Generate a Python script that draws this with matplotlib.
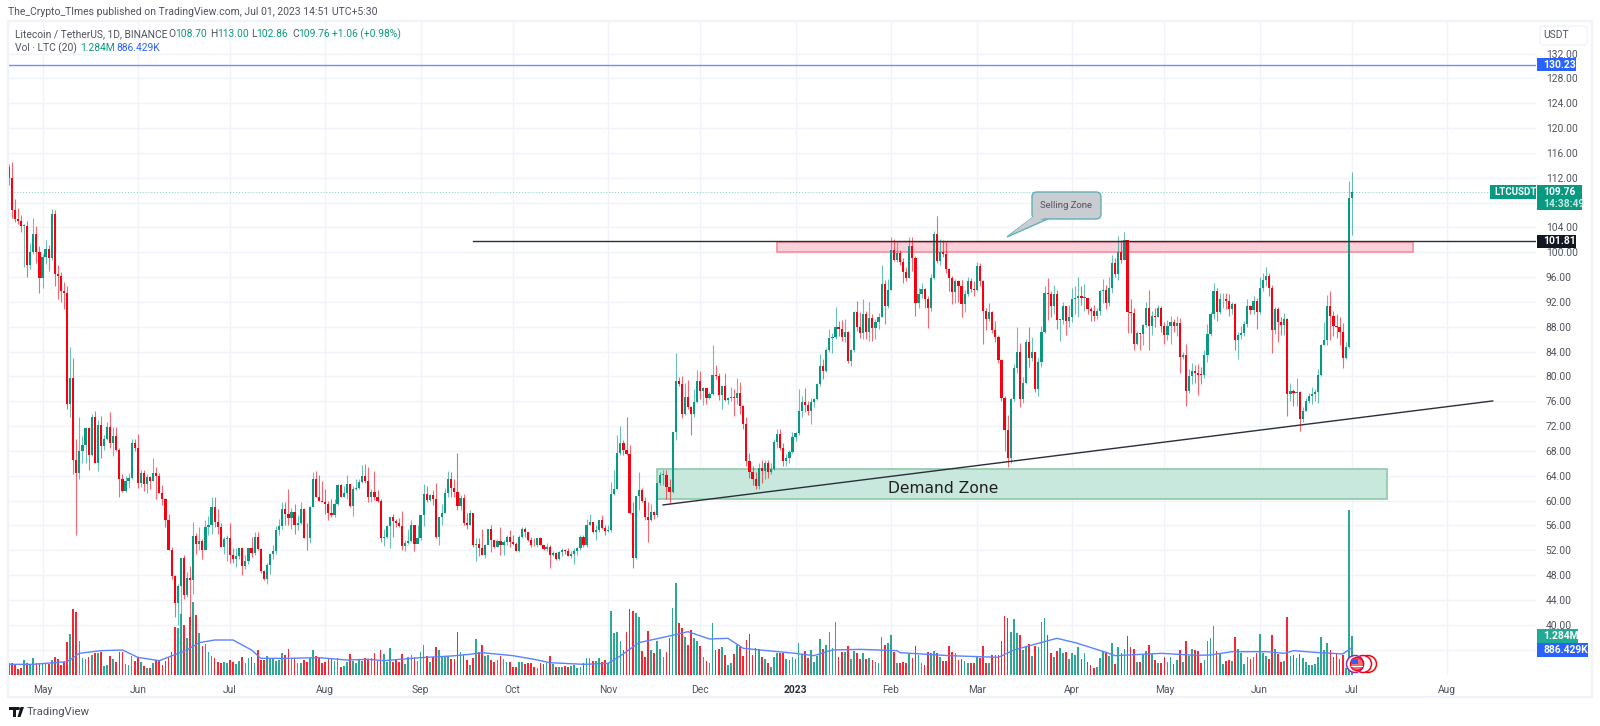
import numpy as np
import pandas as pd
import matplotlib
matplotlib.use('Agg')
import matplotlib.pyplot as plt
import matplotlib.dates as mdates
from matplotlib.patches import Rectangle, Circle, FancyBboxPatch, Polygon

plt.rcParams['font.family'] = ['Roboto', 'DejaVu Sans']

first_open = 113.8
closes = [
    112.0,106.8,105.4,105,104.2,104.3,98,100,103,100,
    95.8,99.2,100.5,99.1,106.1,96.5,96.1,93.8,93.4,75.6,
    79.8,66.6,64.5,68,69,71.7,67.4,73.4,66.1,72.2,
    68.8,70,71.8,69.2,70.4,68.2,63.5,61.6,63.1,63.7,
    69.2,68.4,62.8,64.5,62.6,63.8,63.2,64.5,63.9,61.3,
    60.3,56.8,52.1,47.9,43.5,46.2,50.8,44.8,47.6,47.2,
    54.3,53,53.5,52.1,55.8,56,59,56.6,55.8,52.6,
    53.8,54,51.2,50.6,51,52.3,49.5,50.3,52.3,51.5,
    54.2,52.2,48.7,47.3,49.7,51.4,51.8,55.2,55.9,58.7,
    57.9,57.2,58.1,56,56.4,58.6,54,53.9,59,63.5,
    60.6,60,59.7,59.5,58,57.6,59.5,62.5,60.6,61.2,
    62.7,59.1,61.8,62,63,63.9,63.2,60.6,61.4,60.5,
    60,54,54.1,55.9,57.4,56.7,56.4,55.9,52.7,53.2,
    53.5,56,53,53.9,57.6,61.1,60.1,60.9,60.3,54.1,
    57.3,58,61.2,63.4,
    62.1,61.4,59.2,60.4,56.4,56.0,58,52.9,53,52.4,
    51.3,52.9,55.4,53.6,52.6,53.5,52.8,53.4,54.1,53.3,
    53,51.9,54.2,55.4,54.9,53.7,52.9,52.8,54,52.9,
    52.2,52.5,51.3,51.5,50.6,51.7,52,51.9,51.1,51.4,
    51.8,52.3,54.2,52.9,56.1,56.5,54.9,55.2,56.8,55.6,
    55.1,55.3,61,61.9,67.7,69.3,68.2,67.5,57.96,50.8,
    60.7,61.7,60,57.4,56.9,58.2,57.6,62.8,64.1,64.2,
    62.2,61.4,71,79.2,78.7,74,76.7,75.1,74,75.9,
    79.3,77.7,78.1,76.6,77.2,80.3,80,77,78.4,76.2,76.5,
    76.6,76.5,77.4,75.3,72.4,66.3,64.6,63.5,62.4,65.2,
    64.8,66,64.6,65.1,69.4,70.8,68.5,66.3,66.8,67.8,
    70.2,70.9,74.4,75.8,75.4,74.5,75.8,76.3,78.7,81.6,
    80.9,84.2,86.2,86.3,87.9,87.7,86.3,87.1,82.5,84.2,
    90.3,88,87,90,87.1,89.4,87.8,88.7,89.6,94.9,
    91.3,94,100.4,98.8,99.9,98.5,96.8,95.9,101,99.1,
    91.9,93.2,94.1,92.5,91,95.9,103,98.6,100.1,99.7,
    97.3,95.9,93.6,95.3,94.6,91.6,93.2,95.3,94.1,93.9,
    97.8,95.4,90.5,89.3,90.3,87.4,86.4,82.7,76.5,71.4,
    66.9,76.3,81.4,83.9,76.3,78.9,85.5,83,83.9,77.9,
    82.3,87.2,93.5,93.3,91.4,93.3,89.1,89.1,91.3,89,
    89.5,92.5,92.7,92.9,92.6,92.6,90.9,90.5,89.8,90.5,
    93.8,94,91.9,94.2,98.2,96.5,100,98.8,101.9,90.3,
    90.2,85.2,87,86.8,88.3,91,88.1,89.8,89.5,91,
    88.2,86.7,88.1,88.8,88.2,88.6,83.2,83.4,77.6,80,
    80.9,80.6,80.3,80.2,83.5,86.8,90,93.8,90.3,92.4,
    92.4,92.2,90.8,91.7,85.8,86.6,87,88.5,91.4,90.7,
    92.2,90.3,94.2,95.5,96.1,94.2,87.5,90.8,88.7,88.3,
    89.2,77.1,77.7,77.4,77.5,73.1,74.5,76.1,76.9,77.2,
    77.5,80.3,85,85.9,91.4,89.7,88.2,88,87.1,83,
    84.7,108.7,109.76,
]
highs = [
    114.2,114.6,108.6,107.2,106,104.5,105,101.5,105.6,104.2,
    101,99.8,102,101.2,106.9,106.8,98,96.8,95.2,94.5,
    84.8,82.9,70,73.4,70.4,71.9,71.9,74,74.5,73,
    73.6,70.5,72.7,74.2,71.9,71.8,68.4,64.3,64,64.4,
    70,70,70.8,65,64.9,64.3,63.9,66.8,65.4,64.5,
    62.5,60.4,57.8,52.5,48,46.6,50.8,51.3,48.5,49.5,
    56.5,54.7,55.7,53.8,56.8,57.5,60.5,60.5,58.7,56.4,
    54.1,54.4,56.4,52.3,52.3,52.4,52.5,51.3,52.4,54.1,
    54.9,55,52.3,48.8,49.9,51.5,52.8,55.9,57,59.8,
    59.8,61.8,58.8,59.4,57.6,59.7,58.8,56.4,59.1,64.6,
    64.7,64.2,63.2,61.9,60,60.3,60.2,62.6,62.6,62.3,
    64.2,62.7,62.4,63.5,63.5,65.8,65.9,65.4,61.8,64.7,
    61.7,60.2,55.4,56.1,57.4,57.9,57.1,57.2,58.4,53.6,
    55.5,56.8,56,56,57.7,62.6,62.3,61.1,61.7,62.9,
    57.4,59.5,62,64.8,
    64.6,63.5,67.6,60.9,61,58,58.5,58,54,54,
    55.5,53,55.5,56,53.7,53.8,55.8,53.7,54.5,55.3,
    54.5,53.4,54.4,55.8,55.7,54.9,54.2,53.9,54,54.2,
    52.9,53.1,52.9,51.9,51.7,51.8,52.3,52.2,52.3,51.8,
    52.3,52.5,54.4,54.4,57,57.8,56.5,56,56.9,57.7,
    56,56,63,64.9,70.6,72,69.7,73.5,68.9,59.8,
    60.8,64.6,62,60.6,59.7,59.5,58.3,62.9,64.6,64.9,
    64.9,63.4,71,83.7,79.9,80,79,79.4,75.2,78,
    81,80.8,78.3,78.1,77.5,85.1,81.9,80.5,78.5,80.5,76.7,
    78.3,78,79.8,79.1,75.4,73.4,67.6,65.5,64.6,66,
    66.5,66.5,66.5,66,70,71.6,71.6,69.2,67.5,68.2,
    71,71,78,76.9,78.2,76,76.5,76.5,79,83.6,
    82.8,84.5,87.6,87,91.2,89,89.1,89.2,87.3,84.4,
    90.5,92.1,90.3,92.5,90.6,92,90,89.3,90.2,98,
    95.5,95.7,102.5,102.2,101.6,100.4,99.1,97.7,102.5,102.5,
    99.4,94.2,95,94.2,93,96.5,103.4,105.8,102.2,101.9,
    101.7,97.4,96.1,95.7,95.5,95.5,93.9,96,95.9,95.3,
    98.4,98.2,95.6,91,91.8,90.5,88.9,86.7,82.8,76.8,
    73.8,76.5,82,88,85.4,79.9,86,88,86.4,84,
    83,88.2,94.5,95.8,93.8,94.7,94,89.2,92,91.4,
    91.5,94.3,94.6,96,94.5,94.9,92.7,91.2,91.5,91,
    94,95.7,94.7,96,99.5,99.1,102.6,102,103.3,102,
    92.4,91,87.3,87,88.5,92,93.9,90.5,91,91.5,
    91.4,88.7,89.1,89.8,89.3,89.7,89.4,84,85.2,81.2,
    82.1,81.8,82,81.5,84.2,88.5,90.3,95,94.2,93.5,
    93.4,93.4,93.3,92,91.9,87.2,88.1,89,92.4,91.5,
    93,92.6,96,96.7,97.6,96.6,94.7,91.2,91.2,89.5,
    90.2,89.4,79,78,79.7,77.6,75,76.5,77.3,78.3,
    78,81.2,85.3,88.8,93.1,93.8,90.5,90,89.5,88.6,
    85.6,111.5,113,
]
lows = [
    110.8,105.5,104.9,104.5,103.3,97.7,96,97.3,99.8,98.2,
    93.4,94.2,98.1,97,98.8,94.5,92.5,92,90.9,74.8,
    73.4,64.3,54.5,63.4,66.1,66.1,65,67.2,66,64.8,
    66.9,68.1,69.7,68.5,67.2,68,60.6,61.4,61.4,62,
    63.5,68,62,62.2,61.6,61.3,61.8,63.1,60.3,61.2,
    59.3,55.7,52,47.4,41.2,39.9,41.5,44.2,44.4,39.9,
    45,51.4,52,50.6,52,54.5,54.6,55.8,54.6,52.6,
    51.4,50.3,50,50,49.3,50.6,48,49,49.8,50.9,
    51.3,52.1,48.3,47.2,46.5,48.1,50.6,51.4,54.4,55.4,
    56,56,55.4,54.6,55.3,56.2,53.9,52.1,53.2,58.9,
    60.5,59.9,59.7,57.9,56.8,57.4,57.4,59.3,60.5,60.5,
    60.3,59,57.5,61.7,61.8,62.9,62.9,59.7,59.7,60.1,
    59.7,53.3,52.7,53.9,52.3,54.1,55.7,55.7,52,51.8,
    53,53.3,51.8,53.8,53.7,55.9,59.7,60,59.3,54,
    52.9,56,58,60.5,
    60.6,60.6,58.5,58.5,56.1,55.5,56,52.6,50.3,51,
    51.3,50.7,53,51.7,52.3,52.5,51.2,51.2,52.9,52.6,
    52.9,51.8,51.7,54,54.2,53.5,52.6,52.7,52.6,52.8,
    52,51.8,49.2,51,50.5,50.5,51,51.4,51,50.8,
    49.8,51.3,52,52.6,52.6,56,54.7,53.7,54.9,55.5,
    54.5,54.9,54.9,60.9,61.8,67.4,67.4,67.4,57.8,49.2,
    50.6,58.5,59.8,56.9,53.4,56.7,57,57.3,62.5,62.5,
    60.2,59.6,61.2,69.8,78.5,73.3,73.8,74.8,70.6,73.5,
    75.8,76.4,75.4,75.6,76.4,77,79.6,76.2,74.8,76.1,75.6,
    76,73.6,75.6,74,71.6,65.5,63.6,62.5,61.8,61.9,
    62.8,63.5,63.7,64.3,64.9,68.5,68.1,65.5,65.5,66.1,
    67.6,69.6,70.5,73.5,74.2,73.8,72.4,75,76.2,78.5,
    79.6,80.7,83.9,83.8,86,86.5,85.7,85.5,82.2,81.7,
    84,87.3,86.2,86,86,85.7,85.7,86,87.6,89.5,
    88.4,91.1,94,98.6,98.4,98,95,95.3,95.9,97,
    89.8,91,92.7,91,87.8,90.5,95.7,98.3,97.9,99.3,
    96.7,93.8,91.6,91.8,92,89.5,90.4,93,93.6,93,
    93.7,94.5,85.3,87.5,89,87,85.5,82.2,76,68,
    65.4,66,76,80.5,75.1,75.7,78.7,81.5,82.5,77.5,
    76.8,81.5,87,89.1,89.5,90,87.7,85.7,88.5,86.6,
    88,88.8,90,89.5,91.5,90.5,90,89,88.9,89.2,
    89.9,91.9,90.8,91.4,93.4,96,95.5,98.2,98.7,87,
    87,84.3,85,84.3,85,88,84.3,86.6,88,89.5,
    87.2,85.3,85.9,85.3,87.2,86.5,80.6,82.8,75.3,77.4,
    78.8,78.9,77,78.8,79.8,82.3,86.5,89.3,88.9,90,
    91,90.8,89.8,90,84.3,82.8,86,86.5,88,90,
    90,87.6,90,93.8,94.5,93,83.8,86.8,85.5,86.6,
    86.7,73.6,76,75.2,75.3,71.2,72.6,74.4,75.7,75.5,
    76,75.8,80,85,85,85.9,86.5,86.2,85,81.4,
    82.8,84.5,102.86,
]
# volume in units of about 11K LTC
volumes = [
    35,37,30,18,20,45,35,32,52,37,35,32,32,32,45,55,47,30,40,98,123,197,189,103,
    52,47,53,60,67,65,70,27,30,57,48,38,69,69,32,29,57,43,53,38,27,21,20,37,45,45,30,43,
    53,68,145,140,182,150,110,175,220,180,125,87,92,68,58,50,38,35,40,35,45,40,32,42,53,35,
    50,53,35,75,45,45,57,50,50,43,
    45,65,60,77,50,50,35,35,45,40,
    50,75,57,50,35,40,47,47,43,50,
    23,27,40,63,43,37,47,43,50,47,
    50,67,42,75,63,40,80,40,47,38,
    62,33,53,60,55,43,70,89,57,40,
    53,83,75,53,57,57,47,47,
    130,70,60,45,30,50,108,70,90,57,
    60,45,38,45,57,48,40,40,25,25,
    38,38,33,37,35,25,20,37,33,37,
    57,33,23,23,23,27,23,27,31,20,
    25,35,52,50,42,42,52,38,45,37,
    192,125,130,102,75,128,198,191,187,175,
    72,53,133,75,67,102,77,55,70,112,
    202,275,155,140,115,90,135,112,102,88,
    53,42,37,155,75,78,83,60,30,35,
    62,90,83,57,105,123,60,82,78,55,
    47,37,23,55,67,65,65,47,45,55,
    48,95,62,72,52,75,38,58,108,78,
    89,130,82,160,53,68,70,87,48,72,
    65,47,65,48,50,45,40,37,115,90,
    95,120,70,35,
    35,40,37,62,52,87,60,35,30,70,
    65,72,65,55,42,42,87,70,65,45,
    47,42,35,37,37,53,50,87,35,35,
    60,60,60,102,177,172,128,167,125,120,
    75,85,92,57,87,83,160,170,120,65,
    55,72,82,67,70,48,65,60,85,48,
    65,38,30,22,25,50,72,65,57,97,
    33,84,65,77,117,83,77,40,38,60,
    73,91,63,45,35,37,53,40,53,32,
    45,75,40,102,57,79,75,73,37,45,
    102,110,147,72,65,33,42,45,43,113,
    77,65,33,53,47,53,67,123,65,57,
    47,120,77,63,40,43,175,57,60,52,
    63,50,40,30,30,32,53,113,75,97,
    75,55,63,47,60,20,495,118,
]
ma_days = [0,8,19,23,30,37,42,49,58,62,67,73,79,82,91,101,110,117,122,134,144,
           150,154,164,171,176,187,195,199,205,215,221,228,234,239,248,256,262,268,277,289,
           290,306,322,327,335,341,347,357,360,375,386,391,398,409,415,418,425,434,437]
ma_values = [32,32,40,65,73,75,53,43,75,97,105,105,75,50,50,52,45,47,43,52,57,
             62,67,58,47,37,32,35,57,97,117,130,108,110,80,72,65,58,75,77,73,
             67,58,53,75,95,110,97,68,58,65,59,60,70,70,65,73,68,63,82]

price_ticks = list(range(36, 136, 4))
month_dates = ['2022-05-01','2022-06-01','2022-07-01','2022-08-01','2022-09-01','2022-10-01',
               '2022-11-01','2022-12-01','2023-01-01','2023-02-01','2023-03-01','2023-04-01',
               '2023-05-01','2023-06-01','2023-07-01','2023-08-01']
month_labels = ['May','Jun','Jul','Aug','Sep','Oct','Nov','Dec','2023','Feb','Mar','Apr','May','Jun','Jul','Aug']

GREEN = '#089981'
RED = '#f7000f'
GRID = '#f0f3fa'
TXT = '#50535e'
BLUE = '#2962ff'

closes = np.array(closes)
highs = np.array(highs)
lows = np.array(lows)
opens = np.r_[first_open, closes[:-1]]
days = mdates.date2num(pd.date_range('2022-04-20', periods=len(closes)))
up = closes >= opens
colors = np.where(up, GREEN, RED)
start = days[0]

W, H = 1600, 726
fig = plt.figure(figsize=(W / 100, H / 100), dpi=100, facecolor='white')
pos = [8 / W, 1 - 675 / H, 1528 / W, 654 / H]
xlim = (start - 0.23, start + 496.9)
ylim = (31.9, 137.26)

# grid sits underneath everything
bg = fig.add_axes(pos, zorder=0)
bg.set_xlim(xlim)
bg.set_ylim(ylim)
bg.set_yticks(price_ticks)
bg.set_xticks(mdates.date2num(pd.to_datetime(month_dates)))
bg.grid(True, color=GRID, lw=1)
bg.tick_params(length=0, labelleft=False, labelbottom=False)
for s in bg.spines.values():
    s.set_visible(False)

# volume pane
vax = fig.add_axes(pos, zorder=1)
vax.patch.set_alpha(0)
vax.set_xlim(xlim)
vax.set_ylim(0, 654 * 3)
vax.bar(days, volumes, width=0.55, color=colors, alpha=0.85, linewidth=0)
vax.plot(start + np.array(ma_days), ma_values, color='#5b82ff', lw=1, zorder=3)
vax.axis('off')

# price pane
ax = fig.add_axes(pos, zorder=2)
ax.patch.set_alpha(0)
ax.set_xlim(xlim)
ax.set_ylim(ylim)
for s in ax.spines.values():
    s.set_visible(False)

ax.axhline(130.23, color='#6f8fff', lw=1)
ax.axhline(109.76, color=GREEN, lw=0.7, ls=(0, (1, 2)), alpha=0.5, zorder=1)

ax.add_patch(Rectangle((start + 211, 60.3), 237.4, 4.8, fc='#c9e8dd', ec='#8cc9a8', lw=1.2, zorder=1))
ax.add_patch(Rectangle((start + 250, 100), 206.8, 1.7, fc='#fbd0dd', ec='#f58f97', lw=1.2, zorder=1))

ax.vlines(days, lows, highs, colors=colors, lw=0.8, alpha=0.6, zorder=2)
ax.bar(days, np.abs(closes - opens).clip(0.12), bottom=np.minimum(opens, closes),
       width=0.62 * 1.15, color=colors, linewidth=0, zorder=3)

ax.plot([start + 151, start + 497], [101.81, 101.81], color='#2a2e39', lw=1, zorder=4)
ax.plot([start + 212.9, start + 482.8], [59.3, 76.05], color='#2a2e39', lw=1, zorder=4)
ax.text(start + 304, 61.9, 'Demand Zone', ha='center', va='center', fontsize=11.2,
        family='DejaVu Sans', color='#1f1f1f', zorder=5)

ax.yaxis.tick_right()
ax.set_yticks([t for t in price_ticks if t >= 40])
ax.set_yticklabels(['%.2f' % t for t in price_ticks if t >= 40], fontsize=7.4, color=TXT)
ax.set_xticks(mdates.date2num(pd.to_datetime(month_dates)))
ax.set_xticklabels(month_labels, fontsize=7.4, color=TXT)
ax.tick_params(length=0)
ax.tick_params(axis='y', pad=7)
ax.tick_params(axis='x', pad=7)
ax.get_xticklabels()[8].set_color('#2a2e39')
ax.get_xticklabels()[8].set_fontweight('bold')

# page furniture in pixel coordinates
ov = fig.add_axes([0, 0, 1, 1], zorder=5)
ov.set_xlim(0, W)
ov.set_ylim(H, 0)
ov.axis('off')
ov.patch.set_alpha(0)


def label_box(x0, x1, y0, y1, color, text, tx, size=7.4, tcolor='white', weight='bold'):
    ov.add_patch(Rectangle((x0, y0), x1 - x0, y1 - y0, fc=color, ec='none'))
    ov.text(tx, (y0 + y1) / 2, text, color=tcolor, fontsize=size, fontweight=weight, va='center')


ov.add_patch(Rectangle((8, 21), 1584, 676, fc='none', ec=GRID, lw=1.6))
ov.add_patch(FancyBboxPatch((1541, 27), 45, 17, boxstyle='round,pad=1,rounding_size=3', fc='white', ec=GRID, lw=1))
ov.text(1543, 35, 'USDT', fontsize=7.4, color=TXT, va='center')

label_box(1537, 1576, 58, 71, BLUE, '130.23', 1543)
label_box(1537, 1576, 235, 248, '#131722', '101.81', 1543)
label_box(1490, 1536, 185, 199, GREEN, 'LTCUSDT', 1494, size=7)
label_box(1537, 1582, 185, 199, GREEN, '109.76', 1543)
label_box(1537, 1582, 198, 210, GREEN, '14:38:49', 1543, tcolor='#c4e8df')
label_box(1537, 1578, 629, 643, '#22ab94', '1.284M', 1543)
label_box(1537, 1588, 643, 657, BLUE, '886.429K', 1543)

ov.text(8, 12, 'The_Crypto_TImes published on TradingView.com, Jul 01, 2023 14:51 UTC+5:30',
        fontsize=7.5, color=TXT, va='center')
ov.text(15, 34, 'Litecoin / TetherUS, 1D, BINANCE', fontsize=7.4, color=TXT, va='center')
for lab, val, lx, vx in [('O', '108.70', 168, 175), ('H', '113.00', 210, 217),
                         ('L', '102.86', 251, 256), ('C', '109.76', 292, 298)]:
    ov.text(lx, 34, lab, fontsize=7.4, color=TXT, va='center')
    ov.text(vx, 34, val, fontsize=7.4, color=GREEN, va='center')
ov.text(332, 34, '+1.06 (+0.98%)', fontsize=7.4, color=GREEN, va='center')
ov.text(15, 48, 'Vol · LTC (20)', fontsize=7.4, color=TXT, va='center')
ov.text(80, 48, '1.284M', fontsize=7.4, color=GREEN, va='center')
ov.text(116, 48, '886.429K', fontsize=7.4, color=BLUE, va='center')

# selling zone callout
ov.add_patch(Polygon([(1007, 237), (1032, 218), (1050, 218)], fc='#c9ccd1', ec='#62b0b5', lw=1))
ov.add_patch(FancyBboxPatch((1034, 194), 65, 23, boxstyle='round,pad=2,rounding_size=5', fc='#c9ccd1', ec='#62b0b5', lw=1))
ov.add_patch(Polygon([(1010, 235), (1034, 216), (1048, 216)], fc='#c9ccd1', ec='none'))
ov.text(1066, 205, 'Selling Zone', fontsize=6.8, color='#50535e', ha='center', va='center')

# event markers
for cx, ec in [(1368, RED), (1363, RED), (1355, '#9c27b0')]:
    ov.add_patch(Circle((cx, 664), 8.5, fc='white', ec=ec, lw=1.1))
ov.add_patch(Circle((1357, 664), 6.5, fc='#f26d6d', ec=RED, lw=1))
ov.add_patch(Rectangle((1351, 659), 7, 5, fc=BLUE, ec='none'))
ov.add_patch(Rectangle((1351, 666), 12, 1.2, fc='white', ec='none'))

# logo
ov.add_patch(Rectangle((9, 707), 9, 3, fc='#131722', ec='none'))
ov.add_patch(Rectangle((12.5, 707), 3, 10, fc='#131722', ec='none'))
ov.add_patch(Circle((18.5, 708.5), 1.5, fc='#131722', ec='none'))
ov.add_patch(Polygon([(20.5, 707), (24, 707), (20.5, 717), (17.5, 717)], fc='#131722', ec='none'))
ov.text(27, 712, 'TradingView', fontsize=8.2, color='#50535e', va='center')

fig.savefig('out.png', dpi=100)
